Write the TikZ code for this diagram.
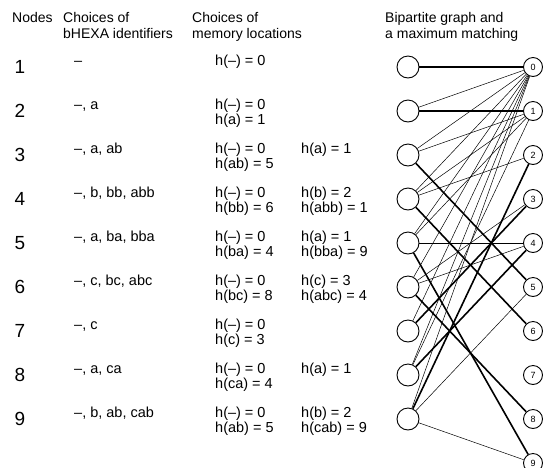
\documentclass[tikz,border=0pt]{standalone}
\usepackage{fontspec}
\setmainfont{Liberation Sans}
\usetikzlibrary{positioning}
\tikzset{
    hdr/.style={anchor=base west, align=left, inner sep=0pt, font=\fontsize{14}{16}\selectfont},
    num/.style={inner sep=0pt, font=\fontsize{19}{22}\selectfont},
    ids/.style={anchor=base west, inner sep=0pt, font=\fontsize{14.5}{15}\selectfont},
    hval/.style={anchor=base west, align=left, inner sep=0pt, font=\fontsize{14.5}{15}\selectfont},
    lnode/.style={circle, draw, line width=0.9pt, minimum size=22pt, inner sep=0pt},
    rnode/.style={circle, draw, line width=0.9pt, minimum size=19pt, inner sep=0pt, font=\fontsize{9}{9}\selectfont},
    edge/.style={line width=0.5pt},
    match/.style={line width=1.6pt}
}

\begin{document}
\begin{tikzpicture}[x=1pt, y=-1pt]
    \useasboundingbox (0,0) rectangle (547,467);

    % column headers (base = last line)
    \node[hdr] (hnodes) at (12,22) {Nodes};
    \node[hdr] (hids) at (63,38) {Choices of\\bHEXA identifiers};
    \node[hdr] (hmem) at (192,38) {Choices of\\memory locations};
    \node[hdr] (hgraph) at (385,38) {Bipartite graph and\\a maximum matching};

    % node numbers
    \foreach \i in {1,...,9}
        \node[num] (n\i) at (20,{67+44*(\i-1)}) {\i};

    % identifiers
    \node[ids] (id1) at (74,65) {–};
    \node[ids] (id2) at (74,109) {–, a};
    \node[ids] (id3) at (74,153) {–, a, ab};
    \node[ids] (id4) at (74,197) {–, b, bb, abb};
    \node[ids] (id5) at (74,241) {–, a, ba, bba};
    \node[ids] (id6) at (74,285) {–, c, bc, abc};
    \node[ids] (id7) at (74,329) {–, c};
    \node[ids] (id8) at (74,373) {–, a, ca};
    \node[ids] (id9) at (74,417) {–, b, ab, cab};

    % memory locations (two-line nodes sit on their second line)
    \node[hval] (ha1) at (215,65) {h(–) = 0};
    \node[hval] (ha2) at (215,124) {h(–) = 0\\h(a) = 1};
    \node[hval] (ha3) at (215,168) {h(–) = 0\\h(ab) = 5};
    \node[hval] (hb3) at (301,153) {h(a) = 1};
    \node[hval] (ha4) at (215,212) {h(–) = 0\\h(bb) = 6};
    \node[hval] (hb4) at (301,212) {h(b) = 2\\h(abb) = 1};
    \node[hval] (ha5) at (215,256) {h(–) = 0\\h(ba) = 4};
    \node[hval] (hb5) at (301,256) {h(a) = 1\\h(bba) = 9};
    \node[hval] (ha6) at (215,300) {h(–) = 0\\h(bc) = 8};
    \node[hval] (hb6) at (301,300) {h(c) = 3\\h(abc) = 4};
    \node[hval] (ha7) at (215,344) {h(–) = 0\\h(c) = 3};
    \node[hval] (ha8) at (215,388) {h(–) = 0\\h(ca) = 4};
    \node[hval] (hb8) at (301,373) {h(a) = 1};
    \node[hval] (ha9) at (215,432) {h(–) = 0\\h(ab) = 5};
    \node[hval] (hb9) at (301,432) {h(b) = 2\\h(cab) = 9};

    % bipartite graph
    \foreach \i in {1,...,9}
        \node[lnode] (l\i) at (408,{67+44*(\i-1)}) {};
    \foreach \k in {0,...,9}
        \node[rnode] (r\k) at (533,{67+44*\k}) {\k};

    \foreach \a/\b in {2/0, 3/0, 3/1, 4/0, 4/1, 4/2, 5/0, 5/1, 5/4,
                       6/0, 6/3, 6/4, 7/0, 8/0, 8/1, 9/0, 9/5, 9/9}
        \draw[edge] (l\a) -- (r\b);

    % maximum matching
    \foreach \a/\b in {1/0, 2/1, 3/5, 4/6, 5/9, 6/8, 7/3, 8/4, 9/2}
        \draw[match] (l\a) -- (r\b);
\end{tikzpicture}
\end{document}
